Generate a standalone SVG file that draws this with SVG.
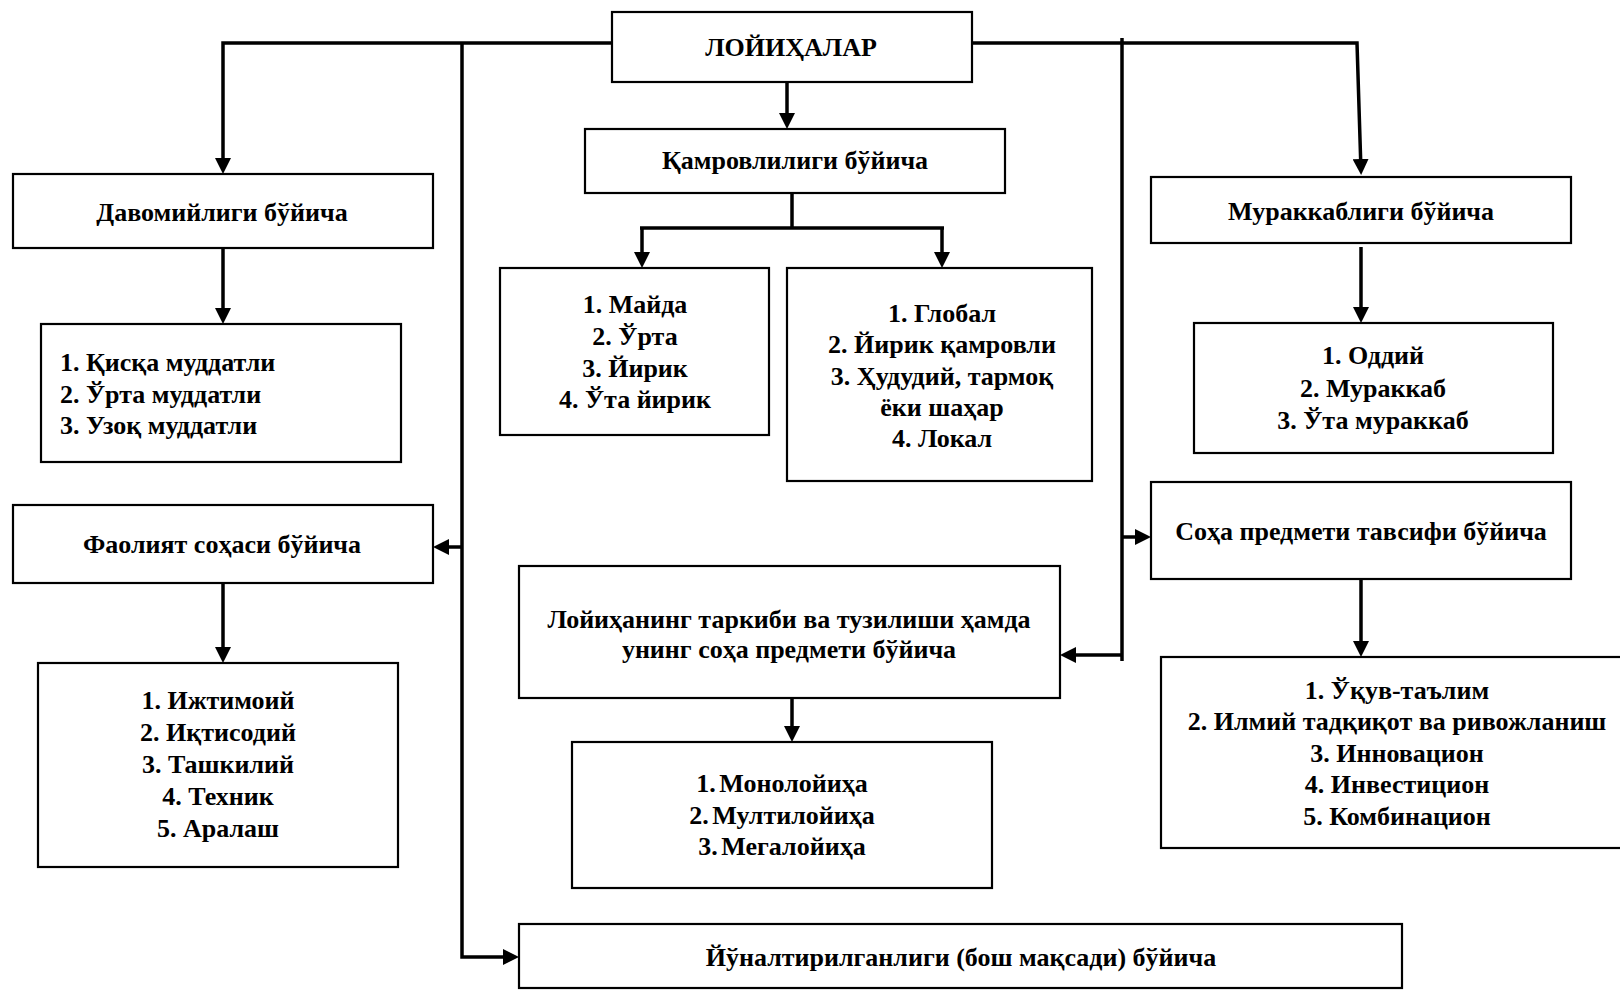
<svg xmlns="http://www.w3.org/2000/svg" width="1620" height="990" viewBox="0 0 1620 990">
<defs>
<style>
.box{fill:#fff;stroke:#000;stroke-width:2.2}
.t{font-family:"Liberation Serif","Times New Roman",serif;font-weight:bold;font-size:26px;fill:#000}
.c{text-anchor:middle}
.ln{fill:none;stroke:#000;stroke-width:3.5}
.tight{word-spacing:-3px}
</style>
<marker id="ah" markerUnits="userSpaceOnUse" markerWidth="16" markerHeight="16" refX="12" refY="8" orient="auto">
<path d="M0,0 L16,8 L0,16 z" fill="#000"/>
</marker>
</defs>
<rect width="1620" height="990" fill="#fff"/>
<g id="connectors">
<path class="ln" d="M612,43 H223 V170" marker-end="url(#ah)"/>
<path class="ln" d="M462,43 V957 H515" marker-end="url(#ah)"/>
<path class="ln" d="M462,547 H437" marker-end="url(#ah)"/>
<path class="ln" d="M787,82 V125" marker-end="url(#ah)"/>
<path class="ln" d="M972,43 H1357 L1361,171" marker-end="url(#ah)"/>
<path class="ln" d="M1122,38 V661"/>
<path class="ln" d="M1122,537 H1147" marker-end="url(#ah)"/>
<path class="ln" d="M1122,655 H1064" marker-end="url(#ah)"/>
<path class="ln" d="M792,193 V228"/>
<path class="ln" d="M640,228 H944"/>
<path class="ln" d="M642,228 V264" marker-end="url(#ah)"/>
<path class="ln" d="M942,228 V264" marker-end="url(#ah)"/>
<path class="ln" d="M223,248 V320" marker-end="url(#ah)"/>
<path class="ln" d="M223,583 V659" marker-end="url(#ah)"/>
<path class="ln" d="M1361,247 V319" marker-end="url(#ah)"/>
<path class="ln" d="M1361,579 V653" marker-end="url(#ah)"/>
<path class="ln" d="M792,698 V738" marker-end="url(#ah)"/>
</g>
<g id="root">
<rect class="box" x="612" y="12" width="360" height="70"/>
<text class="t c" x="791" y="56">ЛОЙИҲАЛАР</text>
</g>
<g id="davomiyligi">
<rect class="box" x="13" y="174" width="420" height="74"/>
<text class="t c" x="222" y="221">Давомийлиги бўйича</text>
</g>
<g id="davomiyligi-list">
<rect class="box" x="41" y="324" width="360" height="138"/>
<text class="t" x="60" y="371">1. Қисқа муддатли</text>
<text class="t" x="60" y="403">2. Ўрта муддатли</text>
<text class="t" x="60" y="434">3. Узоқ муддатли</text>
</g>
<g id="faoliyat">
<rect class="box" x="13" y="505" width="420" height="78"/>
<text class="t c" x="222" y="553">Фаолият соҳаси бўйича</text>
</g>
<g id="faoliyat-list">
<rect class="box" x="38" y="663" width="360" height="204"/>
<text class="t c" x="218" y="709">1. Ижтимоий</text>
<text class="t c" x="218" y="741">2. Иқтисодий</text>
<text class="t c" x="218" y="773">3. Ташкилий</text>
<text class="t c" x="218" y="805">4. Техник</text>
<text class="t c" x="218" y="837">5. Аралаш</text>
</g>
<g id="qamrov">
<rect class="box" x="585" y="129" width="420" height="64"/>
<text class="t c" x="795" y="169">Қамровлилиги бўйича</text>
</g>
<g id="qamrov-list1">
<rect class="box" x="500" y="268" width="269" height="167"/>
<text class="t c" x="635" y="313">1. Майда</text>
<text class="t c" x="635" y="345">2. Ўрта</text>
<text class="t c" x="635" y="377">3. Йирик</text>
<text class="t c" x="635" y="408">4. Ўта йирик</text>
</g>
<g id="qamrov-list2">
<rect class="box" x="787" y="268" width="305" height="213"/>
<text class="t c" x="942" y="322">1. Глобал</text>
<text class="t c" x="942" y="353">2. Йирик қамровли</text>
<text class="t c" x="942" y="385">3. Ҳудудий, тармоқ</text>
<text class="t c" x="942" y="416">ёки шаҳар</text>
<text class="t c" x="942" y="447">4. Локал</text>
</g>
<g id="murakkab">
<rect class="box" x="1151" y="177" width="420" height="66"/>
<text class="t c" x="1361" y="220">Мураккаблиги бўйича</text>
</g>
<g id="murakkab-list">
<rect class="box" x="1194" y="323" width="359" height="130"/>
<text class="t c" x="1373" y="364">1. Оддий</text>
<text class="t c" x="1373" y="397">2. Мураккаб</text>
<text class="t c" x="1373" y="429">3. Ўта мураккаб</text>
</g>
<g id="soha">
<rect class="box" x="1151" y="482" width="420" height="97"/>
<text class="t c" x="1361" y="540">Соҳа предмети тавсифи бўйича</text>
</g>
<g id="soha-list">
<rect class="box" x="1161" y="657" width="500" height="191"/>
<text class="t c" x="1397" y="699">1. Ўқув-таълим</text>
<text class="t c" x="1397" y="730">2. Илмий тадқиқот ва ривожланиш</text>
<text class="t c" x="1397" y="762">3. Инновацион</text>
<text class="t c" x="1397" y="793">4. Инвестицион</text>
<text class="t c" x="1397" y="825">5. Комбинацион</text>
</g>
<g id="tarkib">
<rect class="box" x="519" y="566" width="541" height="132"/>
<text class="t c" x="789" y="628">Лойиҳанинг таркиби ва тузилиши ҳамда</text>
<text class="t c" x="789" y="658">унинг соҳа предмети бўйича</text>
</g>
<g id="tarkib-list">
<rect class="box" x="572" y="742" width="420" height="146"/>
<text class="t c tight" x="782" y="792">1. Монолойиҳа</text>
<text class="t c tight" x="782" y="824">2. Мултилойиҳа</text>
<text class="t c tight" x="782" y="855">3. Мегалойиҳа</text>
</g>
<g id="yonaltir">
<rect class="box" x="519" y="924" width="883" height="64"/>
<text class="t c" x="961" y="966">Йўналтирилганлиги (бош мақсади) бўйича</text>
</g>
</svg>
